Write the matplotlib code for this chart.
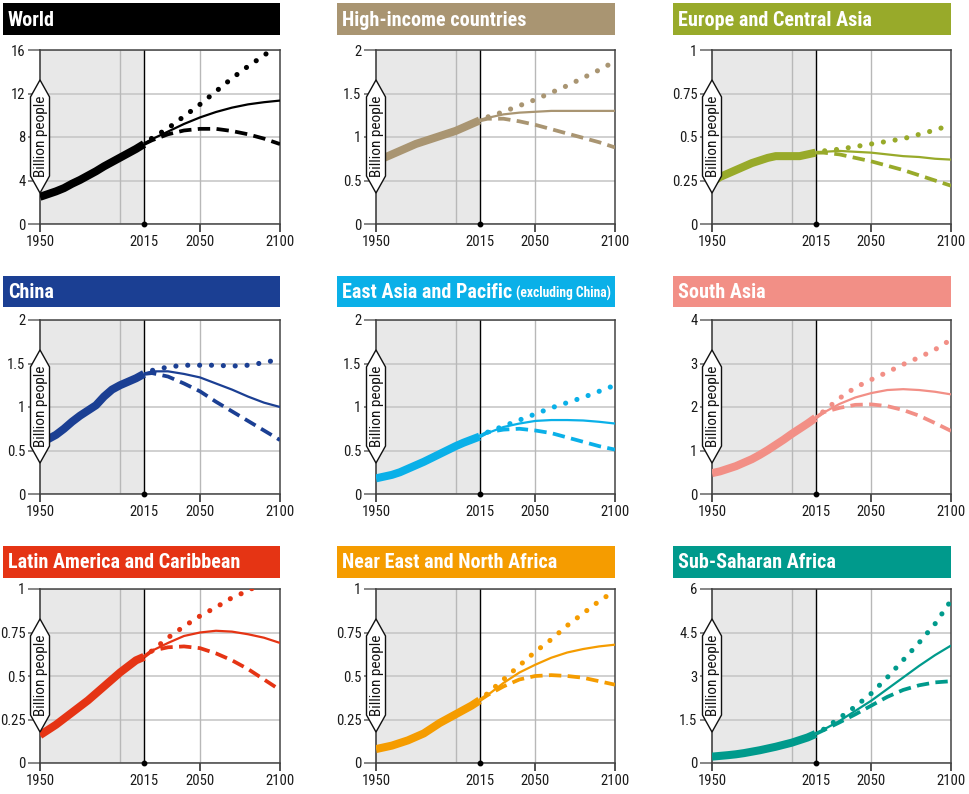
import matplotlib
matplotlib.use("Agg")
import matplotlib.pyplot as plt
from matplotlib import font_manager
from matplotlib.patches import Polygon, Rectangle

# ---------------- data (billion people) ----------------
hist_years = [1950, 1955, 1960, 1965, 1970, 1975, 1980, 1985, 1990, 1995, 2000, 2005, 2010, 2015]
proj_years = [2015, 2020, 2030, 2040, 2050, 2060, 2070, 2080, 2090, 2100]

world_hist = [2.5, 2.75, 3.0, 3.3, 3.7, 4.05, 4.45, 4.85, 5.3, 5.7, 6.1, 6.5, 6.9, 7.35]
world_med = [7.35, 7.8, 8.5, 9.2, 9.8, 10.3, 10.7, 11.0, 11.2, 11.35]
world_high = [7.35, 7.9, 8.8, 9.9, 11.0, 12.2, 13.4, 14.5, 15.5, 16.6]
world_low = [7.35, 7.7, 8.25, 8.6, 8.75, 8.75, 8.55, 8.25, 7.85, 7.35]

hic_hist = [0.72, 0.76, 0.8, 0.84, 0.88, 0.92, 0.95, 0.98, 1.01, 1.04, 1.07, 1.11, 1.15, 1.19]
hic_med = [1.19, 1.22, 1.26, 1.28, 1.29, 1.3, 1.3, 1.3, 1.3, 1.3]
hic_high = [1.19, 1.23, 1.29, 1.36, 1.43, 1.51, 1.59, 1.68, 1.77, 1.87]
hic_low = [1.19, 1.21, 1.21, 1.18, 1.14, 1.09, 1.04, 0.99, 0.94, 0.88]

eca_hist = [0.24, 0.27, 0.29, 0.31, 0.33, 0.35, 0.365, 0.38, 0.39, 0.39, 0.39, 0.39, 0.40, 0.41]
eca_med = [0.41, 0.415, 0.42, 0.415, 0.41, 0.40, 0.39, 0.385, 0.375, 0.37]
eca_high = [0.41, 0.42, 0.43, 0.445, 0.46, 0.475, 0.49, 0.515, 0.54, 0.57]
eca_low = [0.41, 0.41, 0.40, 0.38, 0.36, 0.335, 0.31, 0.28, 0.25, 0.22]

chn_hist = [0.59, 0.63, 0.68, 0.75, 0.83, 0.9, 0.96, 1.02, 1.12, 1.2, 1.25, 1.29, 1.33, 1.38]
chn_med = [1.38, 1.41, 1.41, 1.38, 1.34, 1.27, 1.2, 1.12, 1.05, 1.0]
chn_high = [1.38, 1.42, 1.46, 1.48, 1.48, 1.48, 1.47, 1.48, 1.51, 1.55]
chn_low = [1.38, 1.39, 1.35, 1.27, 1.18, 1.06, 0.95, 0.84, 0.73, 0.62]

eap_hist = [0.18, 0.2, 0.22, 0.25, 0.29, 0.33, 0.37, 0.415, 0.46, 0.505, 0.55, 0.59, 0.625, 0.66]
eap_med = [0.66, 0.7, 0.77, 0.81, 0.84, 0.85, 0.85, 0.845, 0.83, 0.81]
eap_high = [0.66, 0.71, 0.78, 0.85, 0.92, 0.99, 1.05, 1.11, 1.18, 1.25]
eap_low = [0.66, 0.71, 0.74, 0.75, 0.73, 0.70, 0.65, 0.60, 0.55, 0.51]

sas_hist = [0.48, 0.52, 0.58, 0.64, 0.72, 0.8, 0.9, 1.01, 1.13, 1.25, 1.38, 1.5, 1.62, 1.75]
sas_med = [1.75, 1.87, 2.07, 2.22, 2.32, 2.39, 2.41, 2.39, 2.35, 2.29]
sas_high = [1.75, 1.9, 2.2, 2.45, 2.63, 2.8, 2.98, 3.14, 3.32, 3.55]
sas_low = [1.75, 1.88, 1.98, 2.05, 2.06, 2.02, 1.93, 1.8, 1.63, 1.45]

lac_hist = [0.16, 0.19, 0.22, 0.255, 0.29, 0.325, 0.36, 0.4, 0.44, 0.48, 0.52, 0.555, 0.59, 0.61]
lac_med = [0.61, 0.645, 0.69, 0.73, 0.75, 0.76, 0.755, 0.74, 0.72, 0.69]
lac_high = [0.61, 0.645, 0.72, 0.785, 0.845, 0.895, 0.95, 0.99, 1.04, 1.08]
lac_low = [0.61, 0.645, 0.665, 0.67, 0.66, 0.63, 0.59, 0.54, 0.48, 0.42]

mna_hist = [0.08, 0.09, 0.1, 0.115, 0.13, 0.15, 0.17, 0.2, 0.23, 0.255, 0.28, 0.305, 0.33, 0.36]
mna_med = [0.36, 0.39, 0.46, 0.52, 0.565, 0.605, 0.635, 0.655, 0.67, 0.68]
mna_high = [0.36, 0.40, 0.48, 0.56, 0.64, 0.71, 0.79, 0.86, 0.93, 0.99]
mna_low = [0.36, 0.39, 0.44, 0.48, 0.50, 0.505, 0.50, 0.49, 0.47, 0.45]

ssa_hist = [0.22, 0.245, 0.27, 0.3, 0.34, 0.39, 0.44, 0.5, 0.56, 0.63, 0.7, 0.79, 0.88, 1.0]
ssa_med = [1.0, 1.15, 1.45, 1.8, 2.15, 2.55, 2.95, 3.35, 3.72, 4.05]
ssa_high = [1.0, 1.16, 1.55, 1.95, 2.4, 2.95, 3.55, 4.15, 4.8, 5.6]
ssa_low = [1.0, 1.13, 1.4, 1.68, 1.98, 2.28, 2.52, 2.68, 2.78, 2.82]

titles = ["World", "High-income countries", "Europe and Central Asia",
          "China", "East Asia and Pacific", "South Asia",
          "Latin America and Caribbean", "Near East and North Africa", "Sub-Saharan Africa"]
title_suffix = ["", "", "", "", "(excluding China)", "", "", "", ""]
colors = ["#000000", "#a99572", "#98aa2a", "#1b3f93", "#0ab0e8", "#f28f86",
          "#e53414", "#f59c00", "#009a8c"]
yticks = [[0, 4, 8, 12, 16], [0, 0.5, 1, 1.5, 2], [0, 0.25, 0.5, 0.75, 1],
          [0, 0.5, 1, 1.5, 2], [0, 0.5, 1, 1.5, 2], [0, 1, 2, 3, 4],
          [0, 0.25, 0.5, 0.75, 1], [0, 0.25, 0.5, 0.75, 1], [0, 1.5, 3, 4.5, 6]]
xticks = [1950, 2015, 2050, 2100]
series = [(world_hist, world_med, world_high, world_low),
          (hic_hist, hic_med, hic_high, hic_low),
          (eca_hist, eca_med, eca_high, eca_low),
          (chn_hist, chn_med, chn_high, chn_low),
          (eap_hist, eap_med, eap_high, eap_low),
          (sas_hist, sas_med, sas_high, sas_low),
          (lac_hist, lac_med, lac_high, lac_low),
          (mna_hist, mna_med, mna_high, mna_low),
          (ssa_hist, ssa_med, ssa_high, ssa_low)]
ylabel = "Billion people"

# ---------------- fonts ----------------
entries = font_manager.fontManager.ttflist
names = {f.name for f in entries}
FAM, STRETCH = ["DejaVu Sans"], "condensed"
for nm in ["Roboto Condensed", "Liberation Sans Narrow", "Open Sans Condensed",
           "Noto Sans Condensed", "Arial Narrow"]:
    if nm in names:
        FAM, STRETCH = [nm, "DejaVu Sans"], "normal"
        break
else:
    for nm in ["Roboto", "Noto Sans", "Open Sans"]:
        if any(f.name == nm and "condensed" in str(f.stretch) for f in entries):
            FAM, STRETCH = [nm, "DejaVu Sans"], "condensed"
            break
plt.rcParams["font.family"] = FAM
plt.rcParams["font.stretch"] = STRETCH

# ---------------- layout (pixels) ----------------
W, H = 969, 794
fig = plt.figure(figsize=(W / 100, H / 100), dpi=100)
fig.patch.set_facecolor("white")
renderer = fig.canvas.get_renderer()

ax_left = [40, 376, 712]
ax_right = [280, 615, 951]
ax_top = [50, 320, 589]
ax_bot = [224, 494, 763]
bar_left = [3, 337, 673]
bar_top = [3, 276, 546]
bar_bot = [35, 307, 578]


def fx(x):
    return x / W


def fy(y):
    return 1 - y / H


# title font size so that the longest title spans ~234 px
probe = fig.text(0, 0, titles[6], fontsize=13.5, fontweight="bold")
tw = probe.get_window_extent(renderer).width
TITLE_FS = min(14.5, 13.5 * 234.0 / tw)
probe.remove()

for i in range(9):
    r, c = divmod(i, 3)
    L, R, T, B = ax_left[c], ax_right[c], ax_top[r], ax_bot[r]
    ax = fig.add_axes([fx(L), fy(B), fx(R) - fx(L), fy(T) - fy(B)])
    col = colors[i]
    hist, med, high, low = series[i]
    ymax = yticks[i][-1]

    ax.set_xlim(1950, 2100)
    ax.set_ylim(0, ymax)
    ax.axvspan(1950, 2015, color="#e8e8e8", zorder=0, lw=0)
    for yt in yticks[i]:
        ax.axhline(yt, color="#c4c4c4", lw=1.1, zorder=1)
    for xv in (2000, 2050):
        ax.axvline(xv, color="#b8b8b8", lw=1.0, zorder=1)
    ax.axvline(2015, color="black", lw=1.0, zorder=2)

    ax.plot(proj_years, med, color=col, lw=1.6, zorder=4, solid_capstyle="butt")
    ax.plot(proj_years, low, color=col, lw=2.7, zorder=4,
            linestyle=(0, (3.3, 1.7)), dash_capstyle="butt")
    ax.plot(proj_years, high, color=col, lw=3.7, zorder=4,
            linestyle=(0.5, (0.01, 2.3)), dash_capstyle="round")
    ax.plot(hist_years, hist, color=col, lw=5.8, zorder=5, solid_capstyle="butt")
    ax.plot([2015], [0], marker="o", ms=3.2, color="black", clip_on=False, zorder=6)

    for sp in ax.spines.values():
        sp.set_color("#444444")
        sp.set_linewidth(1.1)
    ax.spines["left"].set_color("#333333")
    ax.set_facecolor("white")

    ax.set_yticks(yticks[i])
    ax.set_yticklabels(["{:g}".format(v) for v in yticks[i]])
    ax.set_xticks(xticks)
    ax.set_xticklabels([str(v) for v in xticks])
    ax.tick_params(axis="y", length=9, width=1.1, color="#666666", pad=1.5,
                   labelsize=10.5, labelcolor="#1a1a1a")
    ax.tick_params(axis="x", length=6, width=1.1, color="#222222", pad=2,
                   labelsize=10.5, labelcolor="#1a1a1a")
    ax.xaxis.get_major_ticks()[1].tick1line.set_visible(False)

    # title bar
    fig.add_artist(Rectangle((fx(bar_left[c]), fy(bar_bot[r])),
                             fx(R) - fx(bar_left[c]), fy(bar_top[r]) - fy(bar_bot[r]),
                             transform=fig.transFigure, facecolor=col, edgecolor="none"))
    t = fig.text(fx(bar_left[c] + 5), fy((bar_top[r] + bar_bot[r]) / 2 + 1), titles[i],
                 color="white", fontsize=TITLE_FS, fontweight="bold", va="center", ha="left")
    if title_suffix[i]:
        bb = t.get_window_extent(renderer)
        x0 = bb.x1 + 4
        s = fig.text(x0 / W, fy((bar_top[r] + bar_bot[r]) / 2 + 2), title_suffix[i],
                     color="white", fontsize=10.5, fontweight="bold", va="center", ha="left")
        sw = s.get_window_extent(renderer).width
        avail = (R - 3) - x0
        if sw > avail:
            s.set_fontsize(10.5 * avail / sw)

    # y label banner
    h = B - T
    tt = T + 0.172 * h
    tb = B - 0.178 * h
    sh = 17
    hw = 9.5
    pts = [(L, tt), (L + hw, tt + sh), (L + hw, tb - sh), (L, tb), (L - hw, tb - sh), (L - hw, tt + sh)]
    fig.add_artist(Polygon([(fx(x), fy(y)) for x, y in pts], closed=True,
                           transform=fig.transFigure, facecolor="white",
                           edgecolor="#111111", lw=1.0, zorder=10))
    fig.text(fx(L + 0.5), fy((tt + tb) / 2), ylabel, rotation=90, ha="center", va="center",
             fontsize=11, color="#111111", zorder=11)

fig.savefig("out.png", dpi=100)
